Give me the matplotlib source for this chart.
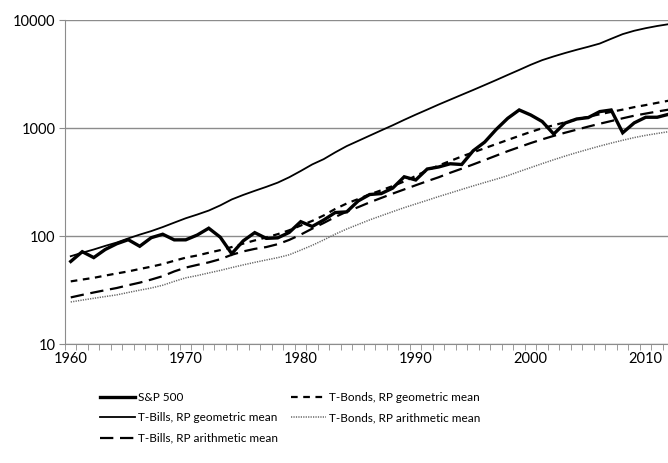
import matplotlib
matplotlib.use('Agg')
import matplotlib.pyplot as plt
from matplotlib.ticker import FixedLocator, FixedFormatter, NullLocator

years = list(range(1960, 2013))

sp500 = [58.11, 71.55, 63.10, 75.02, 84.75, 92.43, 80.33, 96.47, 103.86, 92.06,
         92.15, 102.09, 118.05, 97.55, 68.56, 90.19, 107.46, 95.10, 96.11, 107.94,
         135.76, 122.55, 140.64, 164.93, 167.24, 211.28, 242.17, 247.08, 277.72, 353.40,
         330.22, 417.09, 435.71, 466.45, 459.27, 615.93, 740.74, 970.43, 1229.23, 1469.25,
         1320.28, 1148.08, 879.82, 1111.92, 1211.92, 1248.29, 1418.30, 1468.36, 903.25, 1115.10,
         1257.64, 1257.60, 1340]

tbills_geo = [65, 70, 75, 81, 87, 95, 103, 111, 121, 133,
              146, 158, 172, 192, 218, 240, 262, 285, 312, 350,
              400, 460, 515, 595, 680, 760, 850, 950, 1060, 1190,
              1330, 1480, 1650, 1830, 2030, 2250, 2500, 2780, 3100, 3450,
              3850, 4250, 4600, 4950, 5300, 5650, 6050, 6700, 7400, 7950,
              8400, 8800, 9150]

tbills_arith = [27, 28.5, 30, 31.5, 33, 35, 37, 39.5, 42.5, 47,
                51, 54, 57, 61, 67, 72, 76, 79, 84, 92,
                103, 117, 132, 150, 168, 185, 205, 225, 247, 270,
                295, 322, 350, 385, 420, 460, 505, 555, 610, 665,
                725, 785, 845, 905, 965, 1030, 1095, 1160, 1230, 1300,
                1360, 1420, 1480]

tbonds_geo = [38, 39.5, 41, 43, 45, 47, 49.5, 52, 55, 59,
              63, 66, 70, 74, 79, 85, 91, 97, 104, 113,
              125, 138, 155, 178, 200, 220, 243, 265, 290, 320,
              360, 405, 450, 495, 545, 595, 650, 710, 775, 845,
              920, 995, 1060, 1130, 1200, 1270, 1340, 1410, 1480, 1560,
              1630, 1710, 1790]

tbonds_arith = [24.5, 25.5, 26.5, 27.5, 28.5, 30, 31.5, 33, 35, 38,
                41, 43, 45.5, 48, 51, 54, 57, 60, 63, 67,
                74, 82, 92, 104, 116, 128, 141, 154, 168, 183,
                198, 214, 232, 250, 270, 291, 313, 336, 362, 395,
                430, 468, 508, 550, 592, 635, 680, 725, 770, 815,
                855, 890, 925]

decade_labels = ['1960', '1970', '1980', '1990', '2000', '2010']
y_ticks = [10, 100, 1000, 10000]

plt.rcParams['font.family'] = ['Lato', 'DejaVu Sans']

fig = plt.figure(figsize=(6.68, 4.63), dpi=100)
ax = fig.add_axes([65 / 668, 1 - 344 / 463, 1 - 65 / 668, 324 / 463])

ax.plot(years, sp500, color='black', lw=2.4, solid_joinstyle='miter', label='S&P 500', zorder=5)
ax.plot(years, tbills_geo, color='black', lw=1.3, label='T-Bills, RP geometric mean')
ax.plot(years, tbills_arith, color='black', lw=1.6, dashes=(6, 3), label='T-Bills, RP arithmetic mean')
ax.plot(years, tbonds_geo, color='black', lw=1.6, dashes=(3, 2.5), label='T-Bonds, RP geometric mean')
ax.plot(years, tbonds_arith, color='#666666', lw=1.1, dashes=(0.8, 0.8), label='T-Bonds, RP arithmetic mean')

ax.set_yscale('log')
ax.set_ylim(10, 10000)
ax.set_xlim(1959.5, 2011.94)

ax.yaxis.set_major_locator(FixedLocator(y_ticks))
ax.yaxis.set_major_formatter(FixedFormatter([str(v) for v in y_ticks]))
ax.yaxis.set_minor_locator(NullLocator())

ax.xaxis.set_major_locator(FixedLocator([int(s) for s in decade_labels]))
ax.xaxis.set_major_formatter(FixedFormatter(decade_labels))
ax.xaxis.set_minor_locator(FixedLocator([y - 0.5 for y in years]))

ax.grid(axis='y', which='major', color='#8c8c8c', lw=1)
ax.set_axisbelow(True)
ax.spines[['top', 'right']].set_visible(False)
ax.spines['left'].set_color('#8c8c8c')
ax.spines['bottom'].set_color('#8c8c8c')
ax.tick_params(axis='y', which='major', length=4, color='#8c8c8c', labelsize=10.5, pad=3)
ax.tick_params(axis='x', which='major', length=0, labelsize=10.5, pad=6)
ax.tick_params(axis='x', which='minor', length=4, color='#8c8c8c', direction='out')

fig.legend(loc='upper left', bbox_to_anchor=(100 / 668, 1 - 392 / 463), ncol=2,
           frameon=False, fontsize=8.5, handlelength=3.0, handletextpad=0.2,
           labelspacing=0.8, columnspacing=1.1, borderpad=0, borderaxespad=0)

plt.savefig('out.png', dpi=100)
